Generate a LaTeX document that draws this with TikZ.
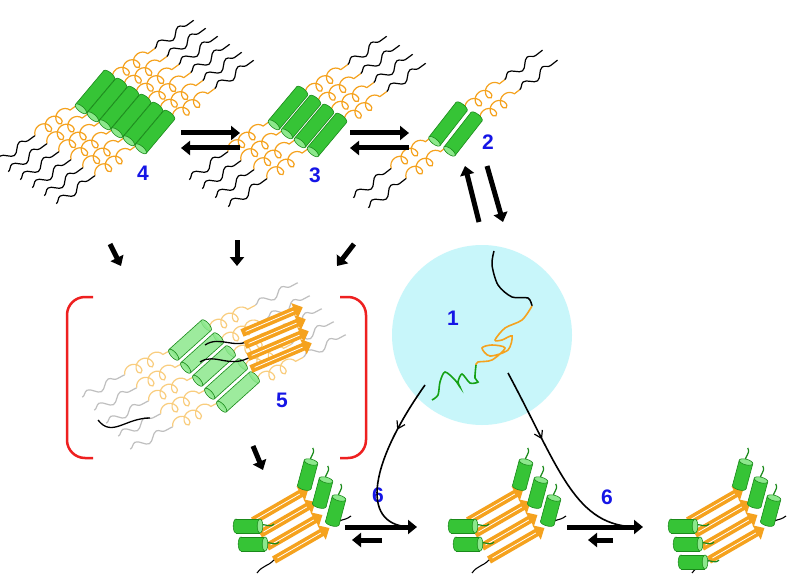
\documentclass[tikz,border=0pt]{standalone}
\usepackage{fontspec}
\setmainfont{Liberation Sans}
\usetikzlibrary{decorations.pathmorphing,decorations.markings,arrows.meta,calc}
\definecolor{gfill}{HTML}{36C436}
\definecolor{gdark}{HTML}{1A8A1A}
\definecolor{glight}{HTML}{8CE88C}
\definecolor{orng}{HTML}{F5A21E}
\definecolor{lorng}{HTML}{F9CD7E}
\definecolor{cyanbg}{HTML}{C8F6FA}
\definecolor{lblue}{HTML}{1515E6}
\definecolor{brk}{HTML}{EE2020}
\tikzset{
 lab/.style={text=lblue,font=\fontsize{21}{21}\selectfont\bfseries,inner sep=0pt},
 coilo/.style={line width=1.2pt,decorate,decoration={coil,aspect=0.9,segment length=13pt,amplitude=6pt}},
 tailb/.style={line width=1.2pt,decorate,decoration={snake,segment length=24pt,amplitude=4pt}},
 bigarr/.style={line width=5pt,-{Triangle[length=9pt,width=14pt]}},
 midarr/.style={postaction={decorate},decoration={markings,mark=at position #1 with {\arrow{Straight Barb[length=7pt,width=9pt,line width=1.2pt]}}}},
 conn/.style={line width=1.6pt}
}
% cylinder: cap at (0,0), body along +x
\newcommand\cylbody[4]{% len, halfdiam, fill colour, opacity
 \filldraw[fill=#3,draw=gdark,line width=0.6pt,fill opacity=#4] (#1,0) ellipse ({0.4*#2} and #2);
 \fill[#3,fill opacity=#4] (0,-#2) rectangle (#1,#2);
 \draw[gdark,line width=0.6pt] (0,-#2) -- (#1,-#2) (0,#2) -- (#1,#2);
 \filldraw[fill=glight,draw=gdark,line width=0.6pt,fill opacity=#4] (0,0) ellipse ({0.4*#2} and #2);}
% strand: x y angle coil tail tailcolour coilcolour cylfill opacity
\newcommand\strandx[9]{%
\begin{scope}[shift={(#1,#2)},rotate=#3]
 \path[tailb,draw=#6] (-22-#4-#5,0) -- (-22-#4,0);
 \path[coilo,draw=#7] (-22-#4,0) -- (-22,0);
 \path[coilo,draw=#7] (22,0) -- (22+#4,0);
 \path[tailb,draw=#6] (22+#4,0) -- (22+#4+#5,0);
 \begin{scope}[rotate=14]\begin{scope}[shift={(-22,0)}]\cylbody{44}{7}{#8}{#9}\end{scope}\end{scope}
\end{scope}}
\newcommand\gcyl[4]{% x y angle len
\begin{scope}[shift={(#1,#2)},rotate=#3]
 \draw[gdark,line width=1.2pt] (0,0) .. controls (-5,4) and (-9,-3) .. (-14,2);
 \cylbody{#4}{7}{gfill}{1}
\end{scope}}
\newcommand\sheet[4]{% x y angle len
 \draw[orng,line width=8pt,-{Triangle[length=9pt,width=16pt]}] (#1,#2) -- ++(#3:#4);
 \draw[white,line width=0.8pt] (#1,#2) ++(#3:4) -- ++(#3:#4-14);}
\newcommand\fibril[2]{% x shift, number of left cylinders
\begin{scope}[shift={(#1,0)}]
 \draw[black,line width=1.1pt] (452,528) .. controls (456,520) and (462,527) .. (468,521);
 \foreach \i in {0,...,3}{\sheet{468+7*\i}{521+13*\i}{-30}{64}}
 \draw[black,line width=1.1pt] (489,560) .. controls (482,567) and (478,565) .. (472,573);
 \draw[black,line width=1.1pt] (548,526) .. controls (554,518) and (558,522) .. (566,516);
 \foreach \j in {1,...,#2}{\gcyl{470+5*\j}{508+18*\j}{180}{24}}
 \gcyl{526}{462}{-105}{26}
 \gcyl{541}{480}{-105}{26}
 \gcyl{554}{498}{-105}{26}
\end{scope}}
\begin{document}
\begin{tikzpicture}[x=1pt,y=-1pt]
\useasboundingbox (0,0) rectangle (800,588);
\fill[white] (0,0) rectangle (800,588);
% cluster 4
\foreach \i in {0,...,5}{\pgfmathsetmacro\xx{95+12*\i}\pgfmathsetmacro\yy{92+8*\i}
 \strandx{\xx}{\yy}{36}{52}{48}{black}{orng}{gfill}{1}}
% cluster 3
\foreach \i in {0,...,3}{\pgfmathsetmacro\xx{288+13*\i}\pgfmathsetmacro\yy{108+9*\i}
 \strandx{\xx}{\yy}{36}{52}{48}{black}{orng}{gfill}{1}}
% cluster 2
\foreach \i in {0,1}{\pgfmathsetmacro\xx{448+15*\i}\pgfmathsetmacro\yy{124+10*\i}
 \strandx{\xx}{\yy}{38}{50}{48}{black}{orng}{gfill}{1}}
% cluster 5
\foreach \i in {0,...,4}{\pgfmathsetmacro\xx{190+12*\i}\pgfmathsetmacro\yy{340+13*\i}
 \strandx{\xx}{\yy}{28}{52}{48}{black!25}{lorng}{glight}{0.85}}
\draw[black,line width=1.3pt] (200,362) .. controls (215,352) and (230,370) .. (252,356);
\draw[black,line width=1.3pt] (205,345) .. controls (220,335) and (235,350) .. (250,340);
\draw[black,line width=1.3pt] (98,420) .. controls (112,438) and (125,418) .. (150,418);
\foreach \i in {0,...,3}{\pgfmathsetmacro\xx{242+3*\i}\pgfmathsetmacro\yy{333+12*\i}
 \sheet{\xx}{\yy}{-23}{66}}
% bracket
\draw[brk,line width=2.5pt,rounded corners=18pt] (93,297) -- (67,297) -- (67,458) -- (93,458);
\draw[brk,line width=2.5pt,rounded corners=18pt] (340,297) -- (366,297) -- (366,458) -- (340,458);
% circle 1
\fill[cyanbg] (482,335) circle (90);
\draw[black,line width=1.5pt] plot[smooth] coordinates {(494,251) (492,265) (498,285) (512,297) (528,298) (532,306)};
\draw[orng,line width=1.6pt] plot[smooth] coordinates {(532,306) (522,320) (505,328) (495,340) (502,340) (512,336) (508,350) (490,356) (482,348) (492,345) (505,348) (492,360) (478,362) (476,365)};
\draw[gdark!80!green,line width=1.6pt] plot[smooth] coordinates {(476,365) (475,378) (478,382) (470,383) (462,374) (458,382) (460,387) (455,380) (445,372) (440,382) (438,395) (432,400)};
% labels
\node[lab] (l4) at (143,173) {4};
\node[lab] (l3) at (315,175) {3};
\node[lab] (l2) at (488,142) {2};
\node[lab] (l1) at (453,318) {1};
\node[lab] (l5) at (282,400) {5};
\node[lab] (l6a) at (378,495) {6};
\node[lab] (l6b) at (607,497) {6};
% equilibrium arrows
\draw[bigarr] (181,133) -- (240,133);
\draw[bigarr] (240,148) -- (181,148);
\draw[bigarr] (350,133) -- (409,133);
\draw[bigarr] (409,148) -- (350,148);
\draw[bigarr] (479,222) -- (465,166);
\draw[bigarr] (487,166) -- (503,222);
% down arrows
\draw[bigarr] (110,244) -- (121,266);
\draw[bigarr] (237,240) -- (237,266);
\draw[bigarr] (354,244) -- (337,266);
\draw[bigarr] (253,446) -- (263,470);
% fibrils
\fibril{-215}{2}
\fibril{0}{2}
\fibril{220}{3}
% pathway connectors
\coordinate (c1) at (425,385);
\coordinate (c2) at (508,373);
\coordinate (e1) at (412,527);
\coordinate (e2) at (638,527);
\draw[conn,midarr=0.3] (c1) .. controls (365,470) and (362,527) .. (e1);
\draw[conn,midarr=0.35] (c2) .. controls (560,470) and (575,527) .. (e2);
\draw[bigarr] (345,527) -- (417,527);
\draw[bigarr] (382,540) -- (352,540);
\draw[bigarr] (567,527) -- (643,527);
\draw[bigarr] (613,540) -- (588,540);
\end{tikzpicture}
\end{document}
